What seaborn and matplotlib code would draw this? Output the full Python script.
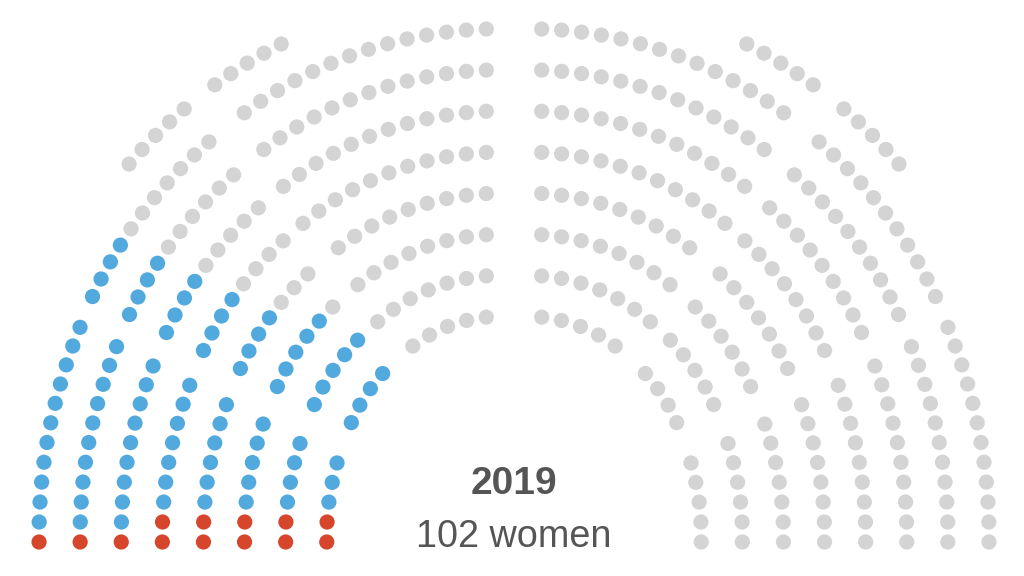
import numpy as np
import pandas as pd
import matplotlib
matplotlib.use("Agg")
import matplotlib.pyplot as plt
import seaborn as sns

# --- data (seats per row, outer row first, one half) ---
year = "2019"
women_label = "102 women"
a_seats = [14, 13, 12, 11, 9, 8, 7, 5]          # top block, next to centre aisle
b_seats = [5, 11, 10, 9, 8, 7, 6, 5, 4]         # middle block
b_back_seats = 5                                # back-row seats above the A/B aisle
c_seats = [12, 11, 10, 9, 8, 7, 6, 5]           # bottom block
# left half colouring (women by party), counted from the floor / lower end
c_rep = [1, 1, 1, 2, 2, 2, 2, 2]
c_dem = [11, 10, 9, 7, 6, 5, 4, 3]
b_dem = [0, 4, 4, 4, 4, 4, 5, 5, 4]

palette = {"Democrat": "#52a9de", "Republican": "#d6462d", "Other": "#d4d4d4"}

# --- layout of the chamber (pixel units, y down) ---
MID = 514
GAP = 41.1


def block_a(i, n):
    r = 431.2 - i * GAP
    t0 = np.pi / 2 - np.arcsin(13.7 / r)
    return 14.0, 460.0, r, t0 - np.arange(n) * 20.0 / r


def block_b(i, n, back=False):
    r = 499.1 - i * GAP
    t0 = np.radians(53.13) - np.arcsin(31.7 / r)
    if back:
        return 5.6, 488.4, r, t0 + np.arange(2, 2 + n) * 19.5 / r
    return 5.6, 488.4, r, t0 - np.arange(n) * 19.5 / r


def block_c(i, n):
    r = 551.0 - i * GAP
    t0 = -np.arcsin(6.0 / r)
    return -76.0, 536.0, r, t0 + np.arange(n) * 20.0 / r


rows = []


def add(geom, groups_left):
    cx, cy, r, th = geom
    dx = cx + r * np.cos(th)
    y = cy - r * np.sin(th)
    for k in range(len(th)):
        rows.append({"x": MID - dx[k], "y": y[k], "group": groups_left[k]})
        rows.append({"x": MID + dx[k], "y": y[k], "group": "Other"})


for i, n in enumerate(a_seats):
    add(block_a(i, n), ["Other"] * n)

for i, n in enumerate(b_seats):
    g = ["Other"] * (n - b_dem[i]) + ["Democrat"] * b_dem[i]
    add(block_b(i, n), g)
add(block_b(0, b_back_seats, back=True), ["Other"] * b_back_seats)

for i, n in enumerate(c_seats):
    g = ["Republican"] * c_rep[i] + ["Democrat"] * c_dem[i]
    g += ["Other"] * (n - len(g))
    add(block_c(i, n), g)

df = pd.DataFrame(rows)

fig = plt.figure(figsize=(10.24, 5.76), dpi=100)
ax = fig.add_axes([0, 0, 1, 1])
sns.scatterplot(data=df, x="x", y="y", hue="group", palette=palette,
                s=120, linewidth=0, legend=False, ax=ax)
ax.set_xlim(0, 1024)
ax.set_ylim(576, 0)
ax.axis("off")

ax.text(MID, 494.3, year, ha="center", va="baseline", fontsize=28,
        fontweight="bold", color="#555555", family="Liberation Sans")
ax.text(MID, 546.7, women_label, ha="center", va="baseline", fontsize=27.2,
        color="#555555", family="Liberation Sans")

fig.savefig("out.png", dpi=100, facecolor="white")
